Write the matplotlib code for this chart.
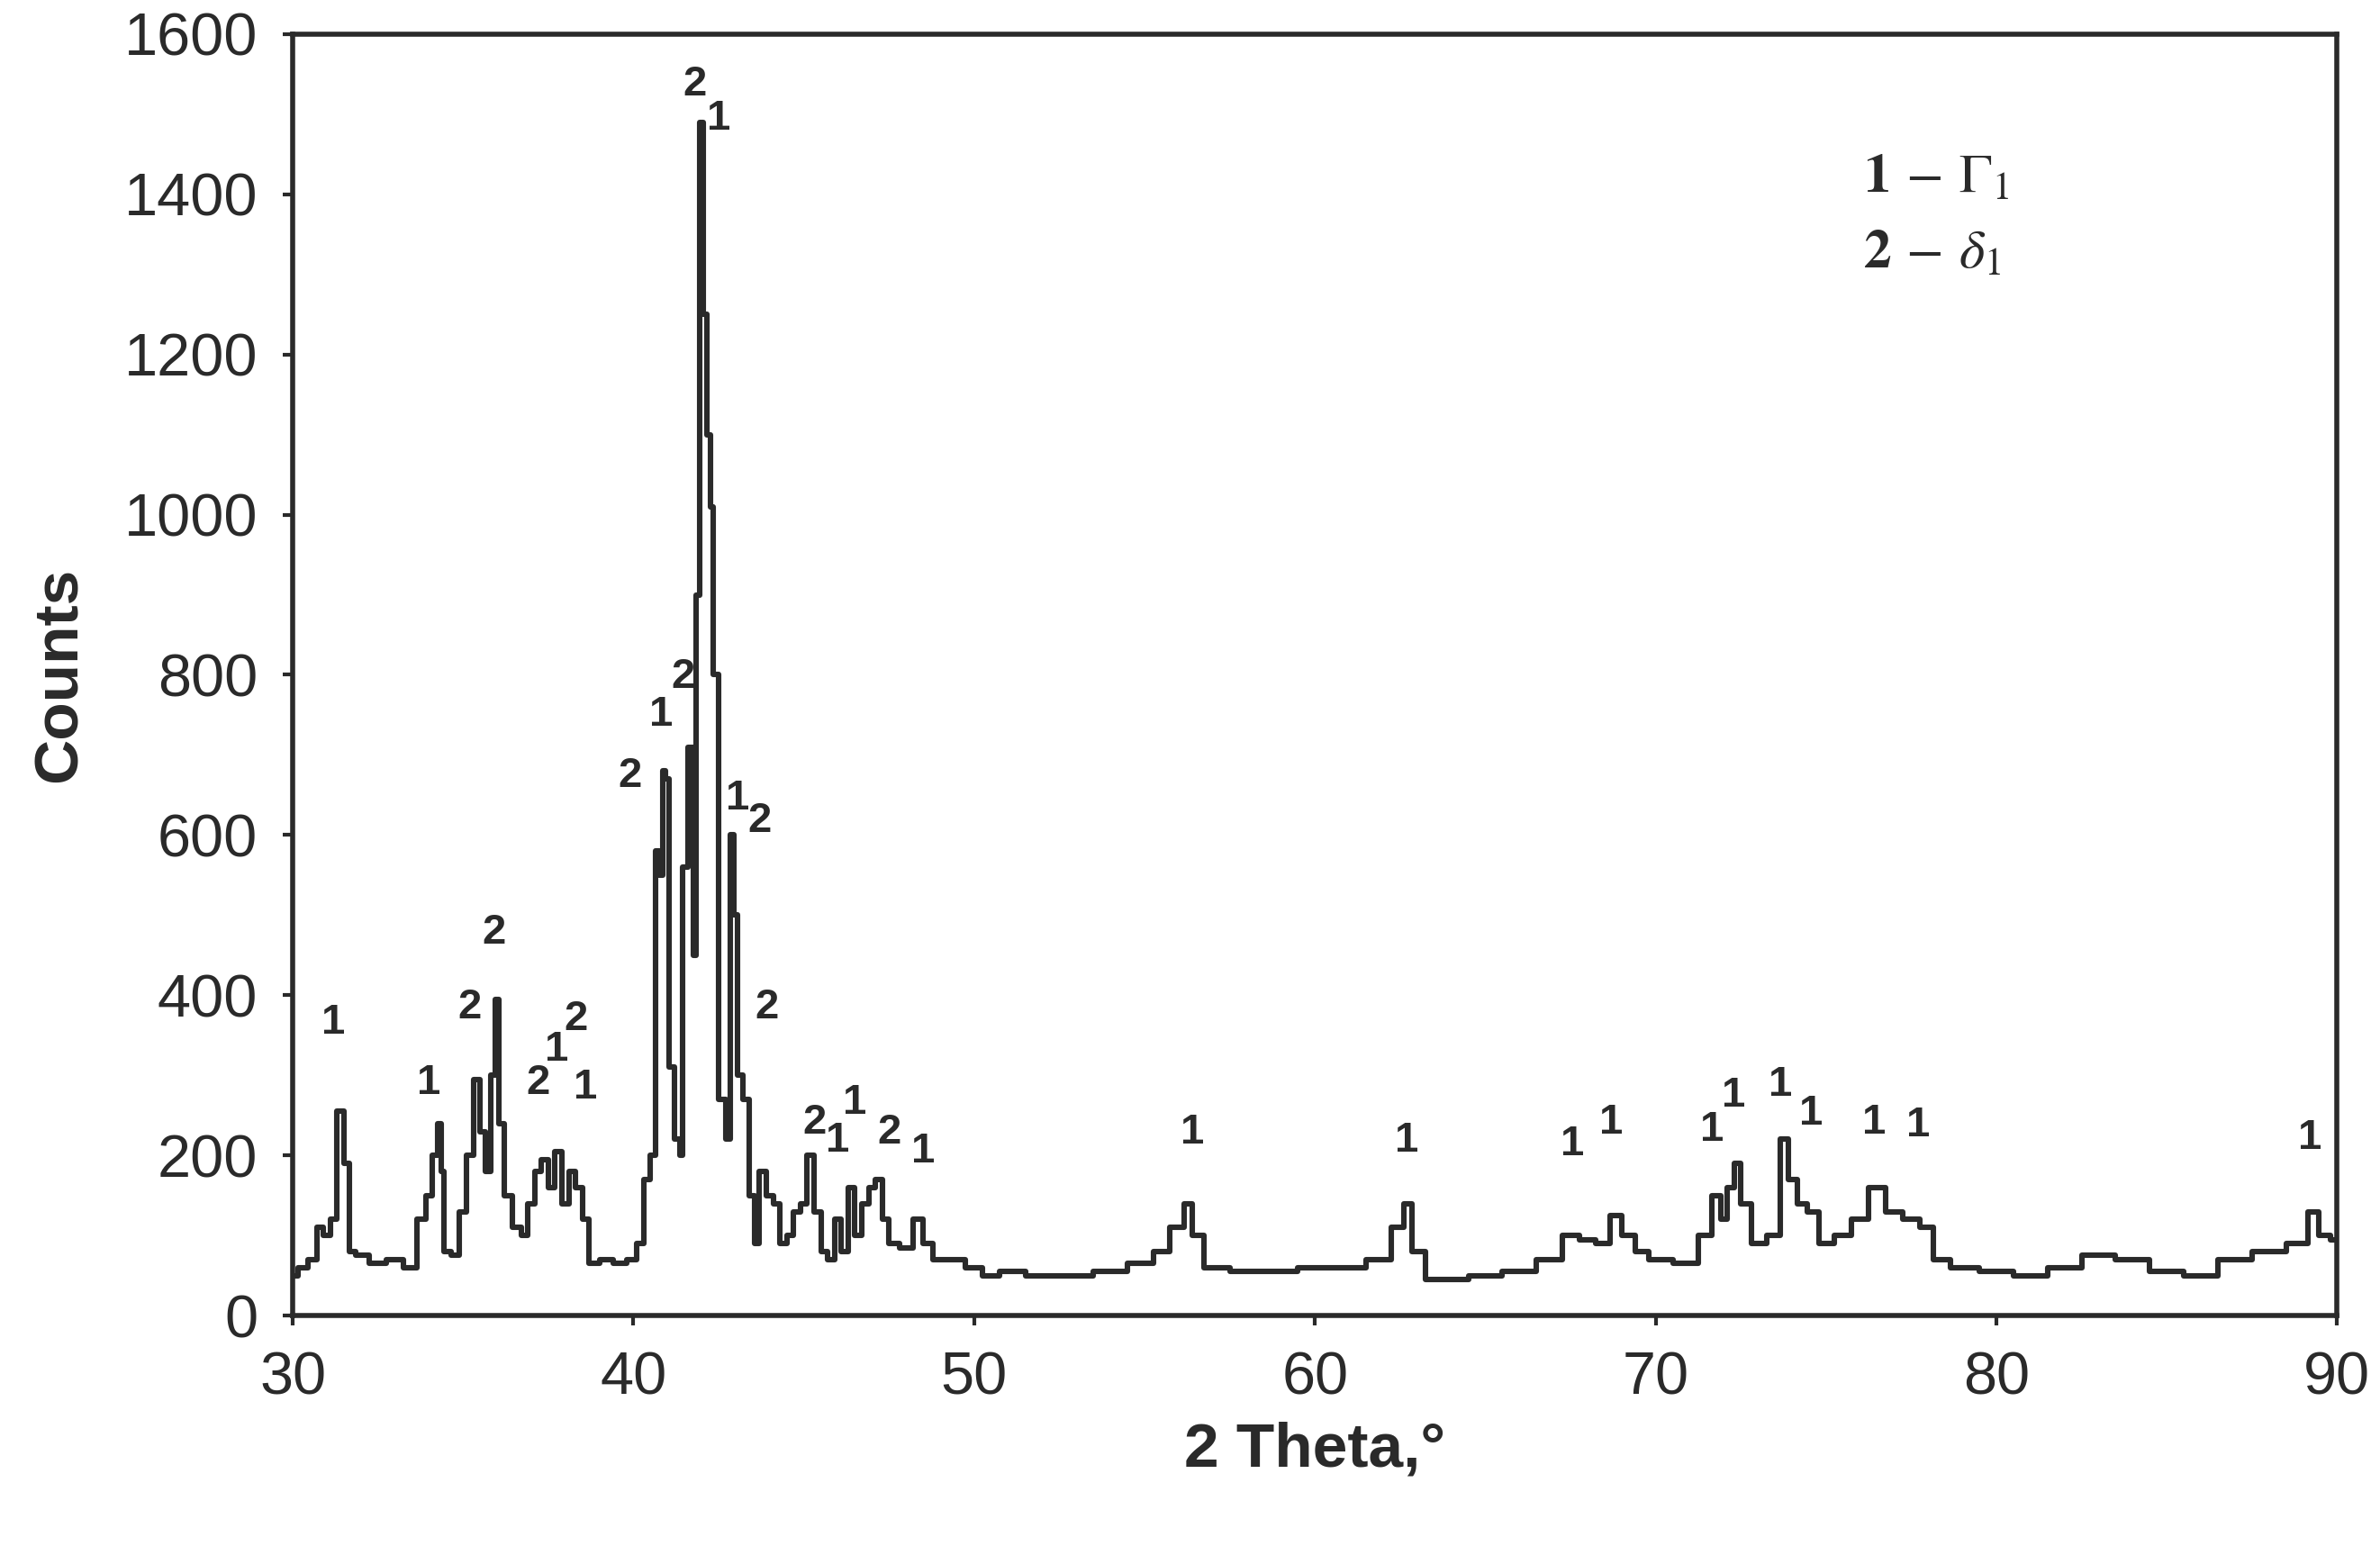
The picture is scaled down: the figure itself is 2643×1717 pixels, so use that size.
import matplotlib.pyplot as plt

plt.rcParams['font.family'] = ['Liberation Sans', 'DejaVu Sans']
plt.rcParams['mathtext.fontset'] = 'stix'

theta = [30, 30.3, 30.6, 30.8, 31.0, 31.2, 31.4, 31.6, 31.7, 32, 32.5, 33, 33.5, 33.8, 34.0, 34.2, 34.3, 34.4, 34.5,
         34.8, 35.0, 35.2, 35.4, 35.6, 35.7, 35.9, 36.0, 36.1, 36.3, 36.6, 36.8, 37.0, 37.2, 37.4, 37.6, 37.8, 38.0,
         38.2, 38.4, 38.6, 38.8, 39.2, 39.6, 40.0, 40.2, 40.4, 40.6, 40.7, 40.8, 40.9, 41.0, 41.1, 41.3, 41.4, 41.5,
         41.7, 41.8, 41.9, 42.0, 42.1, 42.2, 42.3, 42.4, 42.6, 42.8, 42.9, 43.0, 43.1, 43.3, 43.5, 43.6, 43.8, 44.0,
         44.2, 44.4, 44.6, 44.8, 45.0, 45.2, 45.4, 45.6, 45.8, 46.0, 46.2, 46.4, 46.6, 46.8, 47.0, 47.2, 47.4, 47.6,
         48.0, 48.4, 48.6, 49, 49.5, 50, 50.5, 51, 52, 53, 54, 55, 55.5, 56, 56.3, 56.5, 57, 58, 59, 60, 61, 62, 62.5,
         62.7, 63, 63.5, 64, 65, 66, 67, 67.5, 68, 68.5, 68.8, 69.2, 69.6, 70, 71, 71.5, 71.8, 72, 72.2, 72.4, 72.6,
         73, 73.5, 73.8, 74, 74.3, 74.6, 75, 75.5, 76, 76.5, 77, 77.5, 78, 78.3, 79, 80, 81, 82, 83, 84, 85, 86, 87,
         88, 89, 89.3, 89.6, 90]
counts = [50, 60, 70, 110, 100, 120, 255, 190, 80, 75, 65, 70, 60, 120, 150, 200, 240, 180, 80,
          75, 130, 200, 295, 230, 180, 300, 395, 240, 150, 110, 100, 140, 180, 195, 160, 205, 140,
          180, 160, 120, 65, 70, 65, 70, 90, 170, 200, 580, 550, 680, 670, 310, 220, 200, 560,
          710, 450, 900, 1490, 1250, 1100, 1010, 800, 270, 220, 600, 500, 300, 270, 150, 90, 180, 150,
          140, 90, 100, 130, 140, 200, 130, 80, 70, 120, 80, 160, 100, 140, 160, 170, 120, 90,
          85, 120, 90, 70, 70, 60, 50, 55, 50, 50, 55, 65, 80, 110, 140, 100, 60, 55, 55, 60, 60, 70, 110,
          140, 80, 45, 45, 50, 55, 70, 100, 95, 90, 125, 100, 80, 70, 65, 100, 150, 120, 160, 190, 140,
          90, 100, 220, 170, 140, 130, 90, 100, 120, 160, 130, 120, 110, 70, 60, 55, 50, 60, 75, 70, 55, 50, 70,
          80, 90, 130, 100, 95]

# peak labels: 1 - Gamma1, 2 - delta1
peak_x = [31.2, 34.0, 35.2, 35.9, 37.2, 37.75, 38.3, 38.6, 39.9, 40.8, 41.45, 41.8, 42.5, 43.05, 43.7, 43.9,
          45.3, 46.0, 46.5, 47.5, 48.5, 56.4, 62.7, 67.55, 68.7, 71.65, 72.3, 73.65, 74.55, 76.4, 77.7, 89.2]
peak_y = [366, 290, 385, 478, 290, 332, 370, 285, 674, 750, 797, 1537, 1494, 645, 617, 385,
          241, 218, 266, 228, 205, 228, 218, 214, 241, 232, 275, 288, 252, 241, 237, 222]
peak_lab = ['1', '1', '2', '2', '2', '1', '2', '1', '2', '1', '2', '2', '1', '1', '2', '2',
            '2', '1', '1', '2', '1', '1', '1', '1', '1', '1', '1', '1', '1', '1', '1', '1']

c = '#2a2a2a'
fig = plt.figure(figsize=(13.215, 8.585), dpi=200)
ax = fig.add_axes([0.123, 0.149, 0.859, 0.829])
ax.plot(theta, counts, color=c, lw=2.2, drawstyle='steps-mid')
for x, y, t in zip(peak_x, peak_y, peak_lab):
    ax.text(x, y, t, ha='center', va='center', fontsize=17, fontweight='bold', color=c)

ax.text(76.1, 1420, r'$\mathbf{1}$ $-$ $\Gamma_1$', fontsize=22, color=c, va='center')
ax.text(76.1, 1325, r'$\mathbf{2}$ $-$ $\delta_1$', fontsize=22, color=c, va='center')

ax.set_xlim(30, 90)
ax.set_ylim(0, 1600)
ax.set_xticks(range(30, 91, 10))
ax.set_yticks(range(0, 1601, 200))
ax.tick_params(labelsize=24, colors=c, direction='out', length=4, width=1.5, pad=10)
ax.set_xlabel('2 Theta,°', fontsize=25, fontweight='bold', color=c, labelpad=6)
ax.set_ylabel('Counts', fontsize=25, fontweight='bold', color=c, labelpad=14)
for s in ax.spines.values():
    s.set_linewidth(2)
    s.set_color(c)

fig.savefig('out.png')
